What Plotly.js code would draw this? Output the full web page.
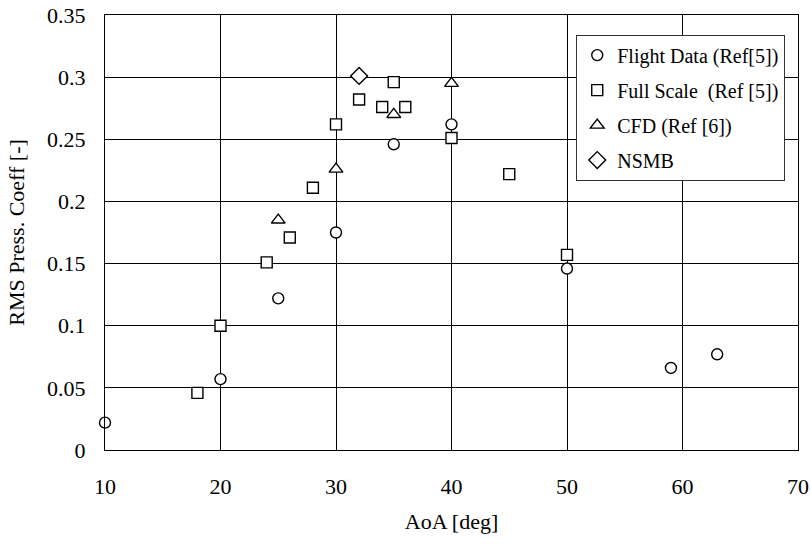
<!DOCTYPE html>
<html>
<head>
<meta charset="utf-8">
<script src="https://cdn.plot.ly/plotly-3.0.1.min.js"></script>
<style>html,body{margin:0;padding:0;background:#fff;}#chart{width:811px;height:544px;}</style>
</head>
<body>
<div id="chart"></div>
<script>
// Flight Data (Ref[5])
const flightAoA = [10, 20, 25, 30, 35, 40, 50, 59, 63];
const flightRms = [0.022, 0.057, 0.122, 0.175, 0.246, 0.262, 0.146, 0.066, 0.077];
// Full Scale (Ref [5])
const fullAoA = [18, 20, 24, 26, 28, 30, 32, 34, 35, 36, 40, 45, 50];
const fullRms = [0.046, 0.1, 0.151, 0.171, 0.211, 0.262, 0.282, 0.276, 0.296, 0.276, 0.251, 0.222, 0.157];
// CFD (Ref [6])
const cfdAoA = [25, 30, 35, 40];
const cfdRms = [0.185, 0.226, 0.27, 0.295];
// NSMB
const nsmbAoA = [32];
const nsmbRms = [0.301];

const seriesNames = ["Flight Data (Ref[5])", "Full Scale  (Ref [5])", "CFD (Ref [6])", "NSMB"];
const xTicks = [10, 20, 30, 40, 50, 60, 70];
const yTicks = [0, 0.05, 0.1, 0.15, 0.2, 0.25, 0.3, 0.35];
const yTickText = ["0", "0.05", "0.1", "0.15", "0.2", "0.25", "0.3", "0.35"];

function mk(x, y, name, symbol, size, grp) {
  return {
    x: x, y: y, name: name, type: 'scatter', mode: 'markers', legendgroup: grp,
    marker: {symbol: symbol, size: size, color: '#fff', line: {color: '#000', width: 1.4}},
    cliponaxis: false
  };
}

const data = [
  mk(flightAoA, flightRms, seriesNames[0], 'circle', 11, 'a'),
  mk(fullAoA, fullRms, seriesNames[1], 'square', 11, 'b'),
  mk(cfdAoA, cfdRms, seriesNames[2], 'triangle-up', 12, 'c'),
  mk(nsmbAoA, nsmbRms, seriesNames[3], 'diamond', 13, 'd')
];

const font = {family: 'Liberation Serif', color: '#000'};

const layout = {
  width: 811, height: 544,
  margin: {l: 105, r: 13, t: 15, b: 94},
  paper_bgcolor: '#fff', plot_bgcolor: '#fff',
  font: Object.assign({size: 22}, font),
  showlegend: true,
  legend: {
    x: 0.68, y: 0.955, xanchor: 'left', yanchor: 'top',
    bordercolor: '#333', borderwidth: 1, bgcolor: '#fff',
    font: Object.assign({size: 20}, font),
    tracegroupgap: 6, itemwidth: 30
  },
  xaxis: {
    range: [10, 70], tickvals: xTicks, ticks: '', ticklabelstandoff: 17,
    showgrid: true, gridcolor: '#000', gridwidth: 1,
    showline: true, linecolor: '#000', linewidth: 1, mirror: true, zeroline: false,
    tickfont: Object.assign({size: 22}, font),
    title: {text: 'AoA [deg]', font: Object.assign({size: 22}, font), standoff: 15}
  },
  yaxis: {
    range: [0, 0.35], tickvals: yTicks, ticktext: yTickText, ticks: '', ticklabelstandoff: 14,
    showgrid: true, gridcolor: '#000', gridwidth: 1,
    showline: true, linecolor: '#000', linewidth: 1, mirror: true, zeroline: false,
    tickfont: Object.assign({size: 22}, font),
    title: {text: 'RMS Press. Coeff [-]', font: Object.assign({size: 22}, font), standoff: 16}
  }
};

Plotly.newPlot('chart', data, layout, {displayModeBar: false, staticPlot: true});
</script>
</body>
</html>
